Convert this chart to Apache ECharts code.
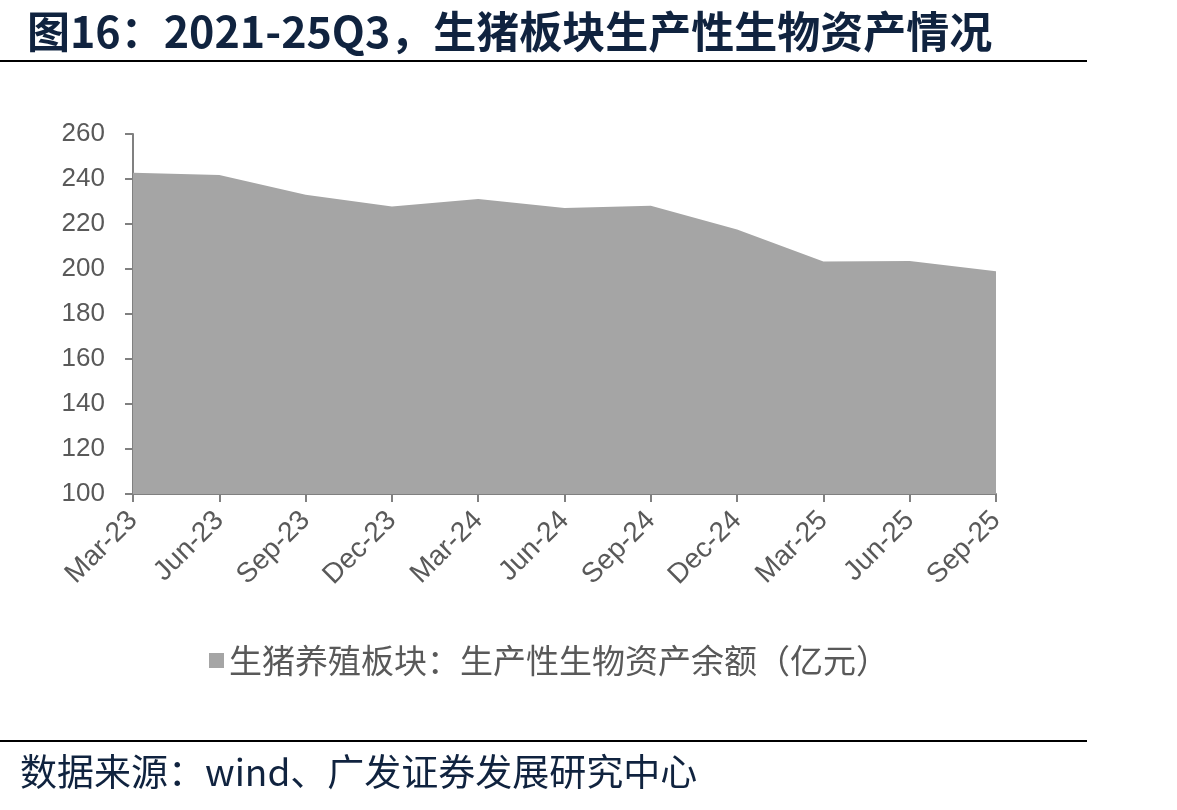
<!DOCTYPE html>
<html>
<head>
<meta charset="utf-8">
<script src="https://cdn.jsdelivr.net/npm/echarts@6/dist/echarts.min.js"></script>
<style>
  body { margin: 0; background: #fff; }
  #main { width: 1177px; height: 810px; }
</style>
</head>
<body>
<div id="main"></div>
<script>
// 季度末
var categories = ['Mar-23', 'Jun-23', 'Sep-23', 'Dec-23', 'Mar-24', 'Jun-24',
                  'Sep-24', 'Dec-24', 'Mar-25', 'Jun-25', 'Sep-25'];
// 生产性生物资产余额（亿元）
var assetValues = [242.8, 241.8, 233.0, 227.8, 231.1, 227.1, 228.1, 217.6, 203.3, 203.6, 199.0];
var yTicks = { min: 100, max: 260, interval: 20 };

var seriesName = '生猪养殖板块：生产性生物资产余额（亿元）';
var cjk = '"Noto Sans CJK SC", sans-serif';
var latin = 'Arial, "Liberation Sans", sans-serif';

var myChart = echarts.init(document.getElementById('main'));
myChart.setOption({
    animation: false,
    title: {
        text: '图16：2021-25Q3，生猪板块生产性生物资产情况',
        left: 22,
        top: 5,
        textStyle: { color: '#10233f', fontSize: 43, fontWeight: 'bold', fontFamily: cjk }
    },
    graphic: [
        { type: 'line', shape: { x1: 0, y1: 61, x2: 1087, y2: 61 }, style: { stroke: '#000', lineWidth: 2 } },
        { type: 'line', shape: { x1: 0, y1: 741, x2: 1087, y2: 741 }, style: { stroke: '#000', lineWidth: 2 } },
        {
            type: 'text', left: 20, top: 753,
            style: { text: '数据来源：wind、广发证券发展研究中心', fill: '#10233f', font: '37px ' + cjk }
        }
    ],
    legend: {
        data: [seriesName],
        left: 204,
        top: 639,
        icon: 'rect',
        itemWidth: 15,
        itemHeight: 15,
        itemGap: 8,
        textStyle: { color: '#595959', fontSize: 33, fontFamily: cjk }
    },
    grid: { left: 133, right: 181, top: 134, bottom: 316 },
    xAxis: {
        type: 'category',
        data: categories,
        boundaryGap: false,
        axisLine: { lineStyle: { color: '#808080', width: 2 } },
        axisTick: { show: true, length: 8, lineStyle: { color: '#808080', width: 2 } },
        axisLabel: { rotate: 45, margin: 22, color: '#595959', fontSize: 28, fontFamily: latin }
    },
    yAxis: {
        type: 'value',
        min: yTicks.min,
        max: yTicks.max,
        interval: yTicks.interval,
        splitLine: { show: false },
        axisLine: { show: true, lineStyle: { color: '#808080', width: 2 } },
        axisTick: { show: true, length: 8, lineStyle: { color: '#808080', width: 2 } },
        axisLabel: { margin: 28, color: '#595959', fontSize: 26, fontFamily: latin }
    },
    series: [{
        name: seriesName,
        type: 'line',
        data: assetValues,
        symbol: 'none',
        itemStyle: { color: '#a5a5a5' },
        lineStyle: { width: 0 },
        areaStyle: { color: '#a5a5a5', opacity: 1 }
    }]
});
</script>
</body>
</html>
